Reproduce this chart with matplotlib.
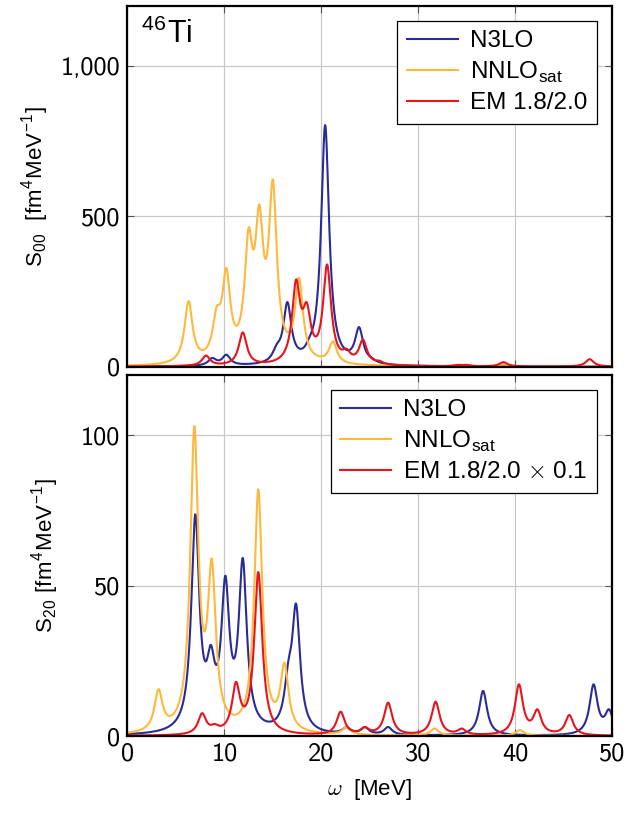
import numpy as np
import matplotlib
matplotlib.use("Agg")
import matplotlib.pyplot as plt
from matplotlib.ticker import FuncFormatter

plt.rcParams['font.family'] = ['Liberation Sans', 'DejaVu Sans']
plt.rcParams['mathtext.fontset'] = 'cm'

# peak positions (MeV) and peak heights
# top panel: S00
s00_n3lo_pos = [8.75, 10.2, 15.4, 16.5, 18.8, 20.4, 22.3, 23.9, 25.2]
s00_n3lo_h = [29, 40, 75, 215, 100, 803, 55, 131, 30]
s00_nnlo_pos = [6.3, 9.2, 10.2, 12.5, 13.6, 15.0, 17.7, 19.8, 21.2, 38.8]
s00_nnlo_h = [218, 200, 329, 462, 540, 623, 296, 35, 84, 8]
s00_em_pos = [8.1, 11.9, 17.4, 18.5, 20.6, 22.6, 24.3, 26.0, 34.0, 35.0, 38.8, 47.7]
s00_em_h = [37, 114, 290, 214, 340, 60, 90, 20, 6, 6, 15, 25]

# bottom panel: S20
s20_n3lo_pos = [7.0, 8.6, 10.1, 11.9, 16.6, 17.4, 22.6, 24.5, 26.9, 36.7, 48.1, 49.7]
s20_n3lo_h = [73.7, 30.3, 53.3, 59.2, 25, 44, 3, 3, 3, 15, 17.2, 8.9]
s20_nnlo_pos = [3.2, 6.9, 8.7, 13.5, 16.2, 22.6, 31.7, 40.5]
s20_nnlo_h = [15.6, 103, 59, 82, 24.4, 3, 2.5, 2]
s20_em_pos = [7.7, 9.0, 11.2, 13.5, 22.0, 24.5, 26.9, 31.8, 34.5, 40.4, 42.3, 45.6]
s20_em_h = [7.6, 4, 18, 54.5, 8.1, 3, 11.1, 11.4, 2.5, 17.2, 8.9, 7]

gamma = 0.5  # lorentzian half width (MeV)
omega = np.linspace(0, 50, 2001)


def lor(x, x0):
    return gamma**2 / ((x - x0)**2 + gamma**2)


def spectrum(pos, h):
    pos = np.array(pos, dtype=float)
    h = np.array(h, dtype=float)
    M = lor(pos[:, None], pos[None, :])
    amp = np.clip(np.linalg.solve(M, h), 0, None)
    return (amp[None, :] * lor(omega[:, None], pos[None, :])).sum(axis=1)


c_blue = '#2b2b96'
c_orange = '#ffb83c'
c_red = '#e8141c'
lw = 1.5

fig = plt.figure(figsize=(6.24, 8.17), dpi=100)
ax1 = fig.add_axes([0.2043, 0.5512, 0.7764, 0.4415])
ax2 = fig.add_axes([0.2043, 0.0991, 0.7764, 0.4419])

ax1.plot(omega, spectrum(s00_n3lo_pos, s00_n3lo_h), color=c_blue, lw=lw, label='N3LO')
ax1.plot(omega, spectrum(s00_nnlo_pos, s00_nnlo_h), color=c_orange, lw=lw, label=r'NNLO$_{\mathregular{sat}}$')
ax1.plot(omega, spectrum(s00_em_pos, s00_em_h), color=c_red, lw=lw, label='EM 1.8/2.0')

ax2.plot(omega, spectrum(s20_n3lo_pos, s20_n3lo_h), color=c_blue, lw=lw, label='N3LO')
ax2.plot(omega, spectrum(s20_nnlo_pos, s20_nnlo_h), color=c_orange, lw=lw, label=r'NNLO$_{\mathregular{sat}}$')
ax2.plot(omega, spectrum(s20_em_pos, s20_em_h), color=c_red, lw=lw, label=r'EM 1.8/2.0 $\times$ 0.1')

ax1.set_ylim(0, 1200)
ax2.set_ylim(0, 120)
ax1.set_yticks([0, 500, 1000])
ax2.set_yticks([0, 50, 100])
ax1.yaxis.set_major_formatter(FuncFormatter(lambda v, p: f'{v:,.0f}'))

for ax in (ax1, ax2):
    ax.set_xlim(0, 50)
    ax.set_xticks([0, 10, 20, 30, 40, 50])
    ax.grid(True, color='#c8c8c8', lw=0.9)
    ax.set_axisbelow(True)
    ax.tick_params(direction='in', length=5, width=0.8, top=True, right=True,
                   labelsize=19, color='#555555', pad=5)
    for sp in ax.spines.values():
        sp.set_linewidth(1.6)
    for t in ax.get_xticklabels() + ax.get_yticklabels():
        t.set_fontfamily('cmss10')
    ax.legend(loc='upper right', fontsize=17.5, frameon=True, fancybox=False,
              edgecolor='black', framealpha=1, handlelength=2.1,
              borderaxespad=0.6, labelspacing=0.3, handletextpad=0.5,
              borderpad=0.4)

ax1.tick_params(labelbottom=False)
for leg in (ax1.get_legend(), ax2.get_legend()):
    leg.get_frame().set_linewidth(0.9)

ax1.text(0.025, 0.965, r'$^{\mathregular{46}}$Ti', transform=ax1.transAxes,
         fontsize=22, va='top', ha='left')

ax1.set_ylabel(r'S$_{\mathregular{00}}$  [fm$^{\mathregular{4}}$MeV$^{\mathregular{-1}}$]', fontsize=16, labelpad=6)
ax2.set_ylabel(r'S$_{\mathregular{20}}$ [fm$^{\mathregular{4}}$MeV$^{\mathregular{-1}}$]', fontsize=16, labelpad=14)
ax2.set_xlabel(r'$\omega$  [MeV]', fontsize=16, labelpad=8)

fig.savefig('out.png', dpi=100)
